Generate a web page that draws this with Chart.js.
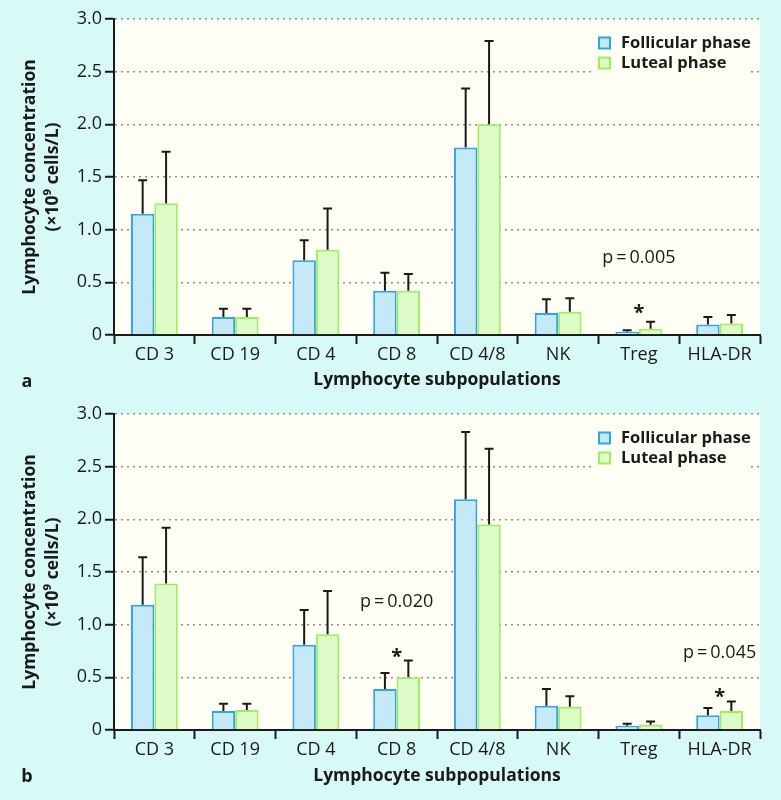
<!DOCTYPE html>
<html>
<head>
<meta charset="utf-8">
<script src="https://cdn.jsdelivr.net/npm/chart.js@4.4.1/dist/chart.umd.min.js"></script>
<style>
  body { margin: 0; background: #d7faf6; }
  #wrap { position: relative; width: 781px; height: 800px; }
  canvas { position: absolute; left: 0; }
</style>
</head>
<body>
<div id="wrap">
  <canvas id="chartA" width="781" height="395" style="top:0"></canvas>
  <canvas id="chartB" width="781" height="405" style="top:395px"></canvas>
</div>
<script>
const categories = ['CD 3', 'CD 19', 'CD 4', 'CD 8', 'CD 4/8', 'NK', 'Treg', 'HLA-DR'];
const seriesNames = ['Follicular phase', 'Luteal phase'];
const yTickLabels = ['0', '0.5', '1.0', '1.5', '2.0', '2.5', '3.0'];

// panel a: means and SD (upper error bar only)
const follicularA   = [1.15, 0.17, 0.71, 0.42, 1.78, 0.21, 0.03, 0.10];
const follicularSdA = [0.32, 0.08, 0.19, 0.17, 0.56, 0.13, 0.015, 0.07];
const lutealA       = [1.25, 0.17, 0.81, 0.42, 2.00, 0.22, 0.06, 0.11];
const lutealSdA     = [0.49, 0.08, 0.39, 0.16, 0.79, 0.13, 0.065, 0.08];
const notesA = [
  { cat: 'Treg', value: 0.73, text: 'p\u2009=\u20090.005' },
  { cat: 'Treg', value: 0.24, text: '*' }
];

// panel b
const follicularB   = [1.19, 0.18, 0.81, 0.39, 2.19, 0.23, 0.04, 0.14];
const follicularSdB = [0.45, 0.07, 0.33, 0.15, 0.64, 0.16, 0.02, 0.07];
const lutealB       = [1.39, 0.19, 0.91, 0.50, 1.95, 0.22, 0.05, 0.18];
const lutealSdB     = [0.53, 0.06, 0.41, 0.16, 0.72, 0.10, 0.03, 0.09];
const notesB = [
  { cat: 'CD 8', value: 1.22, text: 'p\u2009=\u20090.020' },
  { cat: 'CD 8', value: 0.73, text: '*' },
  { cat: 'HLA-DR', value: 0.73, text: 'p\u2009=\u20090.045' },
  { cat: 'HLA-DR', value: 0.35, text: '*' }
];

const FONT = "'Open Sans', sans-serif";
const INK = '#1a1a1a';
const fillColors = ['#c6e9f7', '#defcc7'];
const lineColors = ['#2ea6e6', '#9def5c'];

// cream plot background
const plotBg = {
  id: 'plotBg',
  beforeDraw(chart) {
    const { ctx, chartArea: a } = chart;
    ctx.save();
    ctx.fillStyle = '#fffef4';
    ctx.fillRect(a.left, a.top, a.right - a.left, a.bottom - a.top);
    ctx.restore();
  }
};

// upper error bars from dataset.sd
const errorBars = {
  id: 'errorBars',
  afterDatasetsDraw(chart) {
    const ctx = chart.ctx, y = chart.scales.y;
    chart.data.datasets.forEach((ds, i) => {
      chart.getDatasetMeta(i).data.forEach((bar, j) => {
        const top = y.getPixelForValue(ds.data[j] + ds.sd[j]);
        ctx.save();
        ctx.strokeStyle = INK;
        ctx.lineWidth = 2;
        ctx.beginPath();
        ctx.moveTo(bar.x, bar.y);
        ctx.lineTo(bar.x, top);
        ctx.moveTo(bar.x - 4.5, top);
        ctx.lineTo(bar.x + 4.5, top);
        ctx.stroke();
        ctx.restore();
      });
    });
  }
};

// legend, p values, asterisks, panel letter
const extras = {
  id: 'extras',
  afterDraw(chart) {
    const { ctx, chartArea: a, scales } = chart;
    const o = chart.options.plugins.extras;
    ctx.save();
    // legend box
    ctx.fillStyle = '#fffef4';
    ctx.fillRect(592, a.top + 8, 156, 50);
    chart.data.datasets.forEach((ds, i) => {
      const cy = a.top + 24.5 + i * 20;
      ctx.fillStyle = ds.backgroundColor;
      ctx.fillRect(599, cy - 6, 11, 11);
      ctx.strokeStyle = ds.borderColor;
      ctx.lineWidth = 2;
      ctx.strokeRect(599, cy - 6, 11, 11);
      ctx.fillStyle = INK;
      ctx.font = 'bold 16.5px ' + FONT;
      ctx.textAlign = 'left';
      ctx.textBaseline = 'middle';
      ctx.fillText(ds.label, 621, cy);
    });
    // notes
    o.notes.forEach(n => {
      const x = scales.x.getPixelForValue(categories.indexOf(n.cat));
      const y = scales.y.getPixelForValue(n.value);
      ctx.fillStyle = INK;
      ctx.textAlign = 'center';
      ctx.textBaseline = 'middle';
      if (n.text === '*') {
        ctx.font = 'bold 20px ' + FONT;
        ctx.fillText(n.text, x, y + 4);
      } else {
        ctx.font = '18px ' + FONT;
        ctx.fillText(n.text, x, y);
      }
    });
    // panel letter
    ctx.font = 'bold 18px ' + FONT;
    ctx.textAlign = 'center';
    ctx.textBaseline = 'middle';
    ctx.fillText(o.letter, 27, a.bottom + 47);
    ctx.restore();
  }
};

function makeChart(id, fol, folSd, lut, lutSd, notes, letter, xHeight, xTitlePad) {
  return new Chart(document.getElementById(id), {
    type: 'bar',
    data: {
      labels: categories,
      datasets: [
        { label: seriesNames[0], data: fol, sd: folSd, backgroundColor: fillColors[0], borderColor: lineColors[0], borderWidth: 2 },
        { label: seriesNames[1], data: lut, sd: lutSd, backgroundColor: fillColors[1], borderColor: lineColors[1], borderWidth: 2 }
      ]
    },
    options: {
      responsive: false,
      animation: false,
      categoryPercentage: 0.58,
      barPercentage: 1.0,
      layout: { padding: { top: 19, right: 21, left: 0, bottom: 0 } },
      plugins: {
        legend: { display: false },
        tooltip: { enabled: false },
        extras: { notes: notes, letter: letter }
      },
      scales: {
        x: {
          grid: { display: true, drawOnChartArea: false, tickLength: 9, tickColor: INK, tickWidth: 2, offset: true },
          border: { display: true, color: INK, width: 2 },
          ticks: { color: INK, font: { family: FONT, size: 18 }, padding: 0, maxRotation: 0, autoSkip: false },
          title: {
            display: true, text: 'Lymphocyte subpopulations', color: INK,
            font: { family: FONT, size: 17.5, weight: 'bold', lineHeight: 1.35 },
            padding: { top: 0, bottom: xTitlePad }
          },
          afterFit(scale) { scale.height = xHeight; }
        },
        y: {
          min: 0, max: 3,
          ticks: { stepSize: 0.5, callback: (v, i) => yTickLabels[i], color: INK, font: { family: FONT, size: 18 }, padding: 3 },
          grid: { color: '#8f8f8f', lineWidth: 1.5, tickLength: 9, tickColor: INK, tickWidth: 2 },
          border: { display: true, color: INK, width: 2, dash: [2, 4] },
          title: {
            display: true, text: ['Lymphocyte concentration', '(\u00d710\u2079 cells/L)'], color: INK,
            font: { family: FONT, size: 17.5, weight: 'bold', lineHeight: 1.32 },
            padding: { top: 18, bottom: 0 }
          },
          afterFit(scale) { scale.width = 114; }
        }
      }
    },
    plugins: [plotBg, errorBars, extras]
  });
}

makeChart('chartA', follicularA, follicularSdA, lutealA, lutealSdA, notesA, 'a', 60, 3);
makeChart('chartB', follicularB, follicularSdB, lutealB, lutealSdB, notesB, 'b', 70, 12);
</script>
</body>
</html>
